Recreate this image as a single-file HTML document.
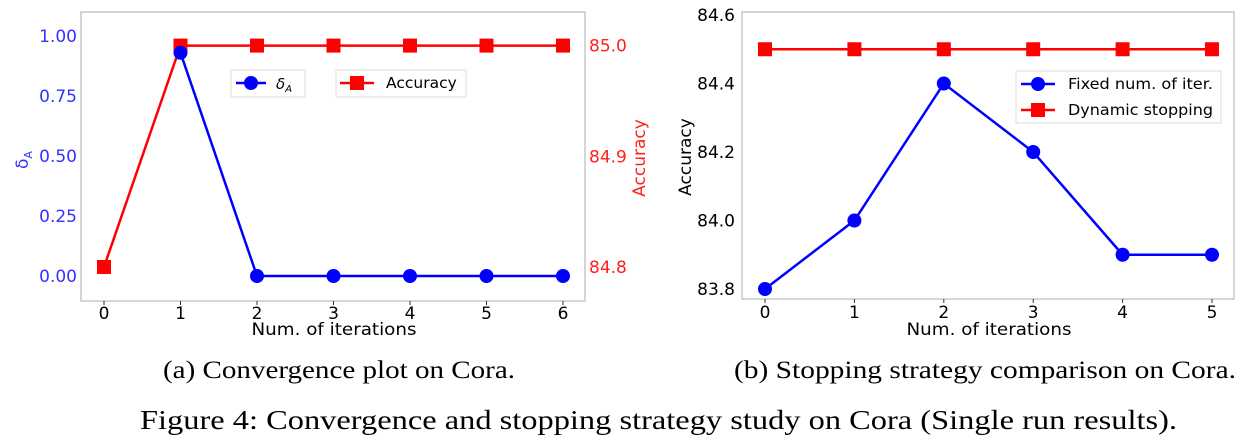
<!DOCTYPE html>
<html><head><meta charset="utf-8"><style>
html,body{margin:0;padding:0;background:#fff;width:1244px;height:447px;overflow:hidden}
svg{display:block}
text{font-family:"DejaVu Sans","Liberation Sans",sans-serif}
.cap{font-family:"Liberation Serif",serif}
</style></head><body>
<svg id="fig" width="1244" height="447">
<text class="cap" x="163" y="378" font-size="25" textLength="352" lengthAdjust="spacingAndGlyphs">(a) Convergence plot on Cora.</text>
<text class="cap" x="734" y="378" font-size="25" textLength="502" lengthAdjust="spacingAndGlyphs">(b)  Stopping strategy comparison on Cora.</text>
<text class="cap" x="140" y="429" font-size="27" textLength="1037" lengthAdjust="spacingAndGlyphs">Figure 4: Convergence and stopping strategy study on Cora (Single run results).</text>
</svg>
<script>
const itersA = [0,1,2,3,4,5,6];
const deltaA = [null,0.93,0,0,0,0,0];
const accA = [84.8,85.0,85.0,85.0,85.0,85.0,85.0];
const deltaTicks = [0,0.25,0.5,0.75,1.0];
const deltaTickLabels = ["0.00","0.25","0.50","0.75","1.00"];
const accATicks = [84.8,84.9,85.0];
const accATickLabels = ["84.8","84.9","85.0"];
const itersB = [0,1,2,3,4,5];
const fixedB = [83.8,84.0,84.4,84.2,83.9,83.9];
const dynB = [84.5,84.5,84.5,84.5,84.5,84.5];
const accBTicks = [83.8,84.0,84.2,84.4,84.6];
const accBTickLabels = ["83.8","84.0","84.2","84.4","84.6"];

const svg = document.getElementById('fig');
const NS = 'http://www.w3.org/2000/svg';
function mk(tag, attrs, parent){const e=document.createElementNS(NS,tag);for(const k in attrs)e.setAttribute(k,attrs[k]);(parent||svg).appendChild(e);return e;}
function txt(s, attrs){const e=mk('text',attrs);e.textContent=s;return e;}

const xA = v => 104 + v*(563-104)/6;
const yD = v => 276 - v*240;
const yAc = v => 267 - (v-84.8)/0.2*(267-45.6);
let f = mk('rect',{x:81,y:12,width:504,height:289,fill:'none',stroke:'#bbb','stroke-width':1.2});


itersA.forEach(v=>{
  const t=txt(String(v),{x:xA(v),y:319,'font-size':17,'text-anchor':'middle',fill:'#000'});
  
  
  mk('line',{x1:xA(v),x2:xA(v),y1:301,y2:305,stroke:'#333'});
});
deltaTicks.forEach((v,i)=>{
  const t=txt(deltaTickLabels[i],{x:77,y:yD(v)+6,'font-size':17,'text-anchor':'end',fill:'#3333ff'});
  
  
});
accATicks.forEach((v,i)=>{
  const t=txt(accATickLabels[i],{x:589,y:yAc(v)+6,'font-size':17,fill:'#ff2020'});
  
  
});
let l=txt('Num. of iterations',{x:334,y:335,'font-size':17,'text-anchor':'middle',textLength:165,lengthAdjust:'spacingAndGlyphs'});


l=txt('δ',{x:0,y:0,'font-size':17,fill:'#3333ff',transform:'translate(28,160) rotate(-90)','text-anchor':'middle'});


mk('tspan',{'font-size':11,dy:4},l).textContent='A';
l=txt('Accuracy',{x:0,y:0,'font-size':17,fill:'#ff2020',transform:'translate(645,158) rotate(-90)','text-anchor':'middle'});


let pts=accA.map((v,i)=>xA(itersA[i])+','+yAc(v)).join(' ');
let p=mk('polyline',{points:pts,fill:'none',stroke:'#ff0000','stroke-width':2.5});


accA.forEach((v,i)=>{const r=mk('rect',{x:xA(itersA[i])-7,y:yAc(v)-7,width:14,height:14,fill:'#ff0000'});

});
pts=deltaA.map((v,i)=>v==null?null:xA(itersA[i])+','+yD(v)).filter(s=>s).join(' ');
p=mk('polyline',{points:pts,fill:'none',stroke:'#0000ff','stroke-width':2.5});


deltaA.forEach((v,i)=>{if(v==null)return;const c=mk('circle',{cx:xA(itersA[i]),cy:yD(v),r:7,fill:'#0000ff'});

});
let g=mk('g',{});


mk('rect',{x:231,y:70,width:74,height:27,fill:'#fff',stroke:'#ddd'},g);
mk('line',{x1:236,x2:266,y1:83,y2:83,stroke:'#0000ff','stroke-width':2.5},g);
mk('circle',{cx:251,cy:83,r:7,fill:'#0000ff'},g);
let tt=mk('text',{x:276,y:89,'font-size':15,'font-style':'italic'},g);tt.textContent='δ';
mk('tspan',{'font-size':10,dy:3},tt).textContent='A';
mk('rect',{x:336,y:70,width:130,height:27,fill:'#fff',stroke:'#ddd'},g);
mk('line',{x1:340,x2:374,y1:83,y2:83,stroke:'#ff0000','stroke-width':2.5},g);
mk('rect',{x:350,y:76,width:14,height:14,fill:'#ff0000'},g);
tt=mk('text',{x:386,y:88,'font-size':15.5},g);tt.textContent='Accuracy';

const xB = v => 765 + v*(1212-765)/5;
const yB = v => 289 - (v-83.8)/0.8*(289-15);
f=mk('rect',{x:742,y:12,width:492,height:287,fill:'none',stroke:'#bbb','stroke-width':1.2});


itersB.forEach(v=>{
  const t=txt(String(v),{x:xB(v),y:318,'font-size':17,'text-anchor':'middle'});
  
  
  mk('line',{x1:xB(v),x2:xB(v),y1:299,y2:303,stroke:'#333'});
});
accBTicks.forEach((v,i)=>{
  const t=txt(accBTickLabels[i],{x:735,y:yB(v)+6,'font-size':17,'text-anchor':'end'});
  
  
});
l=txt('Num. of iterations',{x:989,y:335,'font-size':17,'text-anchor':'middle',textLength:165,lengthAdjust:'spacingAndGlyphs'});


l=txt('Accuracy',{x:0,y:0,'font-size':17,transform:'translate(691,157) rotate(-90)','text-anchor':'middle'});


pts=dynB.map((v,i)=>xB(itersB[i])+','+yB(v)).join(' ');
p=mk('polyline',{points:pts,fill:'none',stroke:'#ff0000','stroke-width':2.5});


dynB.forEach((v,i)=>{const r=mk('rect',{x:xB(itersB[i])-7,y:yB(v)-7,width:14,height:14,fill:'#ff0000'});

});
pts=fixedB.map((v,i)=>xB(itersB[i])+','+yB(v)).join(' ');
p=mk('polyline',{points:pts,fill:'none',stroke:'#0000ff','stroke-width':2.5});


fixedB.forEach((v,i)=>{const c=mk('circle',{cx:xB(itersB[i]),cy:yB(v),r:7,fill:'#0000ff'});

});
g=mk('g',{});


mk('rect',{x:1016,y:71,width:205,height:52,fill:'#fff',stroke:'#ddd'},g);
mk('line',{x1:1021,x2:1055,y1:84,y2:84,stroke:'#0000ff','stroke-width':2.5},g);
mk('circle',{cx:1038,cy:84,r:7,fill:'#0000ff'},g);
tt=mk('text',{x:1068,y:89,'font-size':15.5,textLength:145,lengthAdjust:'spacingAndGlyphs'},g);tt.textContent='Fixed num. of iter.';
mk('line',{x1:1021,x2:1055,y1:110,y2:110,stroke:'#ff0000','stroke-width':2.5},g);
mk('rect',{x:1031,y:103,width:14,height:14,fill:'#ff0000'},g);
tt=mk('text',{x:1068,y:115,'font-size':15.5,textLength:145,lengthAdjust:'spacingAndGlyphs'},g);tt.textContent='Dynamic stopping';
</script>
</body></html>
